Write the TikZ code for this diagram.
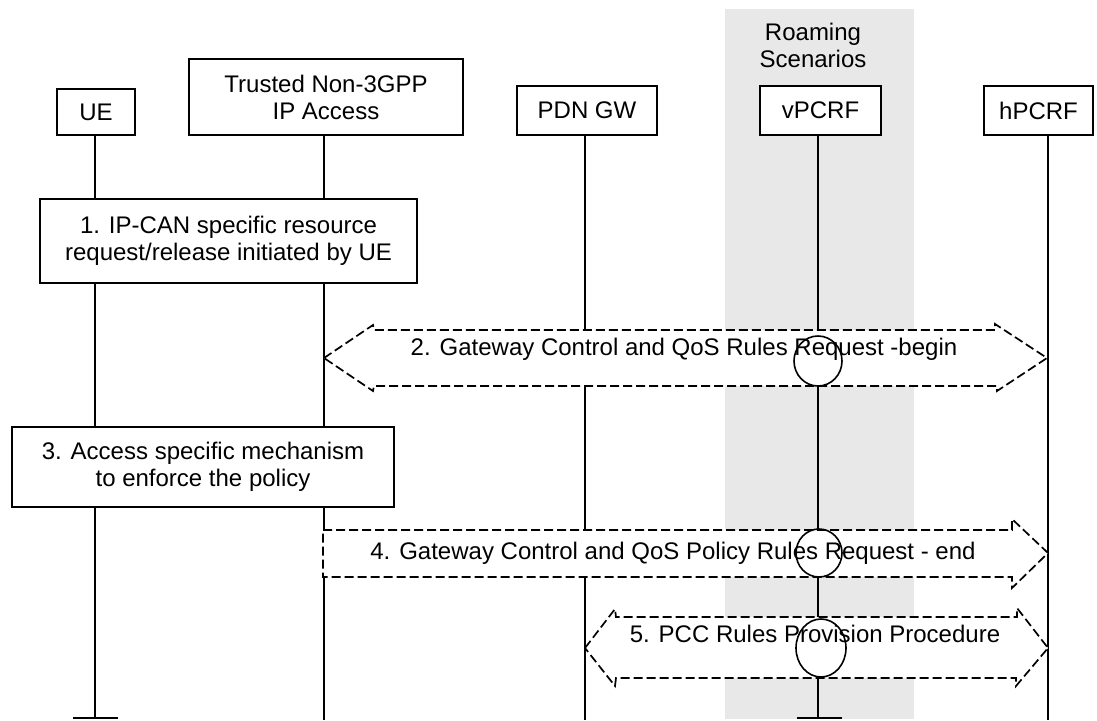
\documentclass[tikz,border=0pt]{standalone}
\usepackage{fontspec}
\setmainfont{Liberation Sans}
\begin{document}
\begin{tikzpicture}[x=1pt,y=-1pt,
  every node/.style={font=\fontsize{24}{27}\selectfont},
  ent/.style={draw, line width=1.8pt, fill=white, inner sep=0pt, outer sep=0pt, align=center},
  life/.style={line width=1.8pt},
  arr/.style={draw, line width=1.7pt, fill=white, dash pattern=on 9pt off 4pt},
  ring/.style={draw, line width=1.6pt},
  lbl/.style={anchor=base, inner sep=0pt}]
\useasboundingbox (0,0) rectangle (1097,720);
% roaming background
\fill[black!9] (725,9) rectangle (914,719);
\node[align=center, inner sep=0pt] (roam) at (813,45) {Roaming\\Scenarios};
% lifeline x positions
\coordinate (xUE) at (95,0);
\coordinate (xTN) at (324,0);
\coordinate (xPDN) at (585,0);
\coordinate (xVP) at (818,0);
\coordinate (xHP) at (1048,0);
\coordinate (bot) at (0,720);
\coordinate (tee) at (0,718);
% entities
\node[ent, minimum width=78pt, minimum height=46pt] (ue) at (96,112) {UE};
\node[ent, minimum width=274pt, minimum height=76pt] (tn) at (326,97) {Trusted Non-3GPP\\IP Access};
\node[ent, minimum width=140pt, minimum height=49pt] (pdn) at (587,110.5) {PDN GW};
\node[ent, minimum width=121pt, minimum height=49pt] (vp) at (820.5,110.5) {vPCRF};
\node[ent, minimum width=109pt, minimum height=49pt] (hp) at (1038.5,110.5) {hPCRF};
% lifelines
\draw[life] (ue.south -| xUE) -- (xUE |- tee);
\draw[life] (tn.south -| xTN) -- (xTN |- bot);
\draw[life] (pdn.south -| xPDN) -- (xPDN |- bot);
\draw[life] (vp.south -| xVP) -- (xVP |- tee);
\draw[life] (hp.south -| xHP) -- (xHP |- bot);
\draw[life] ([xshift=-22pt]xUE |- tee) -- ([xshift=23pt]xUE |- tee);
\draw[life] ([xshift=-21pt]xVP |- tee) -- ([xshift=24pt]xVP |- tee);
% step boxes
\node[ent, minimum width=377pt, minimum height=84pt] (s1) at (228.5,241) {1. IP-CAN specific resource\\request/release initiated by UE};
\node[ent, minimum width=382pt, minimum height=80pt] (s3) at (203,467) {3. Access specific mechanism\\to enforce the policy};
% step 2 (double arrow)
\draw[arr] (324,358) -- (373,325) -- (374,330) -- (995,330) -- (995,324) -- (1047,358)
  -- (997,391) -- (997,386) -- (374,386) -- (373,391) -- cycle;
\node[lbl] (t2) at (684,355) {2. Gateway Control and QoS Rules Request -begin};
% step 4 (single arrow)
\draw[arr] (323,530) -- (1012,530) -- (1012,519) -- (1048,553) -- (1012,588) -- (1012,577)
  -- (323,577) -- cycle;
\node[lbl] (t4) at (673,559) {4. Gateway Control and QoS Policy Rules Request - end};
% step 5 (double arrow)
\draw[arr] (585,648) -- (615,609) -- (616,617) -- (1017,617) -- (1017,608) -- (1048,648)
  -- (1016,686) -- (1016,678) -- (616,678) -- (615,686) -- cycle;
\node[lbl] (t5) at (815,642) {5. PCC Rules Provision Procedure};
% vPCRF markers
\draw[ring] (818,361) ellipse [x radius=24pt, y radius=25pt];
\draw[ring] (819,553) ellipse [x radius=23pt, y radius=24pt];
\draw[ring] (821,648) ellipse [x radius=25pt, y radius=29pt];
\end{tikzpicture}
\end{document}
